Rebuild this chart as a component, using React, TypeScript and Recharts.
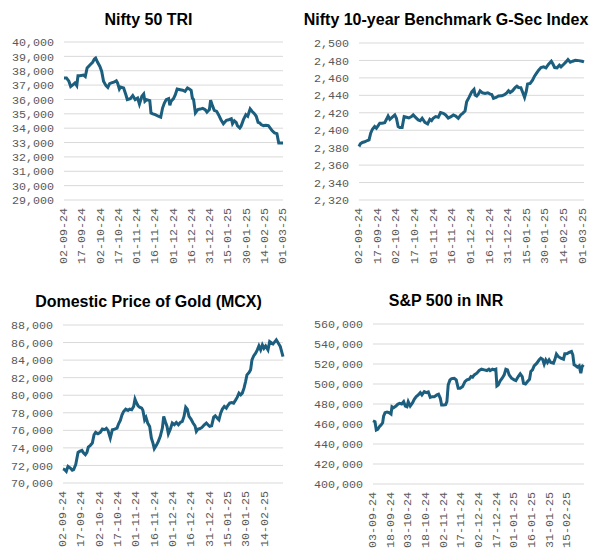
import React from 'react';
import { LineChart, Line, XAxis, YAxis, CartesianGrid } from 'recharts';

// x values are days counted from the first date on each axis
const niftyDays = [
  0, 2, 4, 5.5, 7.5, 9, 10.5, 11.5, 13, 16, 17.5, 19, 21.5, 23.5, 25, 26, 27.5, 29.5, 31, 32.5,
  34.5, 36, 37.5, 39, 41, 43, 44, 45.5, 46.5, 49, 51, 52, 54.5, 56.5, 58.5, 60.5, 62, 64, 65.5, 66.5,
  68, 70.5, 71.5, 73, 75, 77.5, 79.5, 81, 82.5, 84, 86, 87, 88, 90, 91.5, 93, 95.5, 97.5, 99.5, 101.5,
  103, 104.5, 105.5, 106.5, 108, 110, 112, 114, 116, 117.5, 119.5, 120.5, 122, 123.5, 125.5, 127, 129, 131, 133.5, 135.5,
  137.5, 138.5, 140, 141.5, 142.5, 144.5, 145.5, 147.5, 149.5, 151, 153, 154.5, 156.5, 158, 159.5, 161, 162, 164, 166, 168,
  169.5, 171, 173, 175, 176.5, 178, 180,
];
const niftyValues = [
  37500, 37500, 37270, 36900, 37030, 37150, 36960, 37650, 37650, 37700, 37600, 38190, 38420, 38590, 38820, 38880, 38600, 38300, 37950, 37260,
  36960, 36840, 37100, 37150, 37200, 37300, 37150, 36730, 36870, 36800, 36290, 35990, 36060, 36270, 35990, 36100, 35680, 36220, 36380, 35870,
  35990, 35920, 35060, 35000, 34940, 34830, 34760, 35400, 35750, 35990, 36060, 35590, 35870, 36060, 36330, 36730, 36680, 36640, 36560, 36800,
  36730, 36640, 36100, 35990, 35060, 35290, 35330, 35380, 35290, 35110, 35290, 35940, 35570, 35240, 35170, 34940, 34590, 34310, 34550, 34590,
  34660, 34310, 34520, 34410, 34180, 34010, 34130, 34590, 34940, 34830, 35340, 35180, 35010, 34830, 34410, 34360, 34250, 34180, 34200, 34180,
  34010, 33830, 33670, 33620, 32970, 32970, 32970,
];

const gsecDays = [
  0, 1.1, 2.7, 4.6, 6.7, 8.1, 9.4, 10.8, 12.6, 14, 15.3, 16.7, 18.6, 20.7, 22.1, 23.4, 24.8, 26.6, 28.8, 30.1,
  31.5, 32.8, 34.7, 36.3, 38.2, 40.1, 42.2, 43.6, 45.5, 47.6, 49.2, 50.8, 53, 55.2, 57, 58.4, 59.7, 61.6, 63.8, 65.6,
  67.8, 69.7, 71.8, 74, 75.9, 77.8, 79.9, 81.8, 83.4, 85.3, 86.6, 88.5, 90.7, 92.5, 93.4, 94.7, 96, 97.4, 99.3, 101.4,
  103.6, 105.5, 106.8, 108.2, 110.3, 112.2, 114.9, 117, 118.9, 120.3, 121.6, 123.5, 125.6, 127, 128.3, 130.2, 131.8, 133.2, 134.5, 135.6,
  137.7, 139.6, 141.2, 142.3, 144.5, 146.4, 148.5, 150.4, 152.5, 154.7, 155.8, 157.4, 159.3, 161.2, 162.5, 164.7, 166.5, 168.1, 170, 171.9,
  174.1, 176.8, 179.4, 181,
];
const gsecValues = [
  2381.4, 2384.4, 2386, 2386.7, 2388.2, 2389, 2396.6, 2401.1, 2404.2, 2402.3, 2405, 2408, 2408, 2408.7, 2412.5, 2416.3, 2412.5, 2414.8, 2417.5, 2413.7,
  2404.2, 2403, 2403, 2415.6, 2414.8, 2414, 2415.6, 2417.5, 2414.8, 2411.8, 2411, 2413.7, 2409.1, 2407.2, 2412.5, 2411, 2413.7, 2415.6, 2414.8, 2420.2,
  2419.4, 2417.5, 2414, 2415.6, 2417.5, 2416.3, 2413.7, 2417.5, 2419.4, 2422, 2432.7, 2437.6, 2444.1, 2446.8, 2440.3, 2439.2, 2441.4, 2445.2, 2442.9, 2442.2,
  2442.9, 2441.4, 2441, 2436.5, 2437.6, 2439.2, 2439.5, 2440.7, 2442.9, 2445.2, 2443.3, 2445.2, 2449, 2450.6, 2449, 2448.7, 2442.9, 2437.6, 2444.1, 2452.9,
  2453.6, 2457.4, 2462, 2464.3, 2468.8, 2471.9, 2472.6, 2471.5, 2475.7, 2479.1, 2476.4, 2471.9, 2471.5, 2474.5, 2472.6, 2475.7, 2478.3, 2481, 2477.9, 2479.1,
  2480.2, 2479.8, 2479.1, 2478.3,
];

const goldDays = [
  0, 1.4, 2.7, 4.1, 6, 7.6, 8.7, 10.4, 12.3, 13.6, 15.5, 16.9, 18.3, 19.6, 20.7, 22.4, 24, 25.4, 26.7, 28.6,
  30.5, 32.2, 34.1, 35.5, 36.8, 38.7, 40.4, 42.3, 44.2, 45.5, 46.9, 48.3, 49.6, 51.3, 53.2, 54.5, 56.2, 57.8, 58.9, 60,
  61.4, 62.7, 64.4, 65.4, 66.8, 67.9, 69.3, 70.9, 72.3, 73.6, 74.7, 76.4, 78, 79.6, 81.3, 82.4, 83.7, 85.1, 86.2, 87.8,
  89.4, 91.1, 92.7, 94.4, 96, 97.6, 99, 100.4, 101.7, 103.1, 104.7, 106.4, 108, 109.1, 110.4, 111.8, 113.7, 115.6, 117.3, 118.6,
  120, 121.6, 123.3, 124.6, 126.3, 127.6, 129, 130.4, 132, 133.6, 134.7, 136.4, 138, 139.6, 141.3, 142.6, 144, 145.4, 146.7, 148.1,
  149.4, 150.5, 152.2, 153.5, 154.6, 156, 157.6, 159, 160.3, 161.7, 163.1, 164.4, 165.8, 167.7, 169.1, 170.4, 171.8, 173.4, 174.5, 176.2,
  177.8, 178.9, 180,
];
const goldValues = [
  71600, 71520, 71330, 71900, 71710, 71450, 71520, 72090, 73490, 73600, 73720, 73420, 73230, 73490, 74100, 74290, 74550, 75500, 75770, 75610,
  75770, 76140, 76070, 76220, 75990, 75120, 76070, 76140, 76260, 76750, 77130, 77770, 78150, 78420, 78270, 78420, 78340, 78720, 79550, 79170,
  78800, 78640, 78530, 78270, 77200, 77470, 76830, 76450, 75120, 74550, 73910, 74290, 74740, 75310, 76260, 77580, 77010, 76450, 75610, 76140,
  76830, 76640, 76900, 76640, 76900, 77010, 77580, 78640, 78420, 77580, 77280, 76830, 76520, 75880, 76140, 76180, 76330, 76640, 76830, 76640,
  76450, 76520, 77510, 77660, 77390, 77200, 77960, 78420, 78720, 78530, 78800, 79100, 79170, 79100, 79470, 79780, 80240, 80050, 80240, 80800,
  81560, 82320, 82580, 82890, 84020, 84480, 84780, 85160, 85610, 85160, 85730, 85350, 85610, 85160, 86110, 85990, 85840, 86110, 86300, 85920,
  85540, 84970, 84400,
];

const spxDays = [
  0, 1.7, 2.8, 4, 5.4, 6.8, 8.2, 9, 10.2, 11.9, 13.8, 15.3, 16.1, 17.5, 19.5, 20.9, 22.6, 24.3, 26, 27.4,
  28.8, 29.9, 31.6, 33.6, 35, 36.7, 38.4, 40.1, 41.5, 43.5, 45.2, 46.9, 48.6, 50.3, 52, 54.2, 55.6, 57.1, 58.2, 59.9,
  61.6, 62.7, 63.8, 65.3, 66.7, 68.9, 70.6, 72.3, 74, 76, 78, 79.7, 81.6, 83.1, 84.5, 85.9, 88.1, 90.1, 92.1, 94.4,
  96.6, 98.3, 99.4, 101.4, 102.8, 104.2, 105.1, 106.2, 107.9, 109.6, 111.3, 112.7, 114.1, 115.5, 117.5, 119.8, 121.2, 123.2, 124.9, 126.6,
  127.7, 129.4, 131.1, 132.8, 133.9, 135.3, 136.7, 139, 141, 142.4, 143.8, 145.2, 146.6, 148, 149.4, 150.8, 153.1, 154.2, 155.6, 157.1,
  159.3, 161.6, 162.7, 164.4, 166.4, 168.4, 169.5, 170.6, 172, 173.4, 174.9, 176.3, 177.4, 178.5,
];
const spxValues = [
  463260, 462260, 453890, 454560, 457240, 458910, 461260, 467950, 471300, 471970, 471300, 469960, 477320, 476320, 477990, 479670, 480670, 480000, 482340, 477990,
  477320, 482340, 477990, 481340, 484690, 487360, 489040, 491380, 489040, 492390, 491380, 492050, 486690, 487360, 487360, 489040, 489710, 485690, 478990, 478990,
  479330, 482340, 499080, 504100, 505440, 505770, 504100, 495730, 495730, 497410, 502430, 504100, 504770, 507450, 506780, 509120, 510800, 513470, 514810, 514140,
  513470, 514810, 513470, 514810, 514140, 514810, 498080, 499080, 503100, 505770, 509120, 514810, 514140, 509120, 505770, 504100, 503430, 507450, 510130, 507450,
  500750, 500080, 502430, 504770, 512470, 514140, 518160, 520840, 524180, 525860, 524850, 519830, 524180, 521490, 524180, 521490, 520840, 524180, 529870, 527530,
  525860, 524850, 530210, 530210, 531550, 532550, 529200, 519160, 518160, 516820, 518160, 510800, 517490, 519160,
];

const dateLabelsA = [
  '02-09-24', '17-09-24', '02-10-24', '17-10-24', '01-11-24', '16-11-24', '01-12-24',
  '16-12-24', '31-12-24', '15-01-25', '30-01-25', '14-02-25', '01-03-25',
];
const dateLabelsB = [
  '03-09-24', '18-09-24', '03-10-24', '18-10-24', '02-11-24', '17-11-24', '02-12-24',
  '17-12-24', '01-01-25', '16-01-25', '31-01-25', '15-02-25',
];

const niftyTicks = [29000, 30000, 31000, 32000, 33000, 34000, 35000, 36000, 37000, 38000, 39000, 40000];
const gsecTicks = [2320, 2340, 2360, 2380, 2400, 2420, 2440, 2460, 2480, 2500];
const goldTicks = [70000, 72000, 74000, 76000, 78000, 80000, 82000, 84000, 86000, 88000];
const spxTicks = [400000, 420000, 440000, 460000, 480000, 500000, 520000, 540000, 560000];

const LINE_COLOR = '#1b5e7e';
const GRID_COLOR = '#d9d9d9';
const AXIS_TEXT = '#595959';
const MONO = '"Liberation Mono", "Courier New", monospace';
const TITLE_FONT = '"Liberation Sans", Arial, sans-serif';

const DateTick = ({ x, y, payload, labels }: any) => {
  const label = labels[Math.round(payload.value / 15)];
  return (
    <text
      x={x}
      y={y}
      transform={`rotate(-90 ${x} ${y})`}
      textAnchor="end"
      dominantBaseline="central"
      fill={AXIS_TEXT}
      fontSize={11.7}
      fontFamily={MONO}
    >
      {label}
    </text>
  );
};

interface PanelProps {
  title: string;
  days: number[];
  values: number[];
  yTicks: number[];
  xLabels: string[];
  xMax: number;
  left: number;
  top: number;
  width: number;
  height: number;
  marginTop: number;
  marginRight: number;
  marginBottom: number;
  yWidth: number;
  titleTop: number;
}

const Panel = (p: PanelProps) => {
  const data = p.days.map((d, i) => ({ day: d, value: p.values[i] }));
  const xTicks = p.xLabels.map((_, i) => i * 15);
  return (
    <div style={{ position: 'absolute', left: p.left, top: p.top, width: p.width, height: p.height }}>
      <div
        style={{
          position: 'absolute',
          left: 0,
          top: p.titleTop,
          width: p.width,
          textAlign: 'center',
          fontFamily: TITLE_FONT,
          fontWeight: 'bold',
          fontSize: 16,
          lineHeight: '16px',
          color: '#000',
          whiteSpace: 'nowrap',
        }}
      >
        {p.title}
      </div>
      <LineChart
        width={p.width}
        height={p.height}
        data={data}
        margin={{ top: p.marginTop, right: p.marginRight, bottom: p.marginBottom, left: 0 }}
      >
        <CartesianGrid vertical={false} stroke={GRID_COLOR} />
        <XAxis
          dataKey="day"
          type="number"
          domain={[0, p.xMax]}
          ticks={xTicks}
          interval={0}
          height={66}
          axisLine={false}
          tickLine={false}
          tick={<DateTick labels={p.xLabels} />}
        />
        <YAxis
          type="number"
          domain={[p.yTicks[0], p.yTicks[p.yTicks.length - 1]]}
          ticks={p.yTicks}
          interval={0}
          width={p.yWidth}
          axisLine={false}
          tickLine={false}
          tickMargin={4}
          tickFormatter={(v: number) => v.toLocaleString('en-US')}
          tick={{ fill: AXIS_TEXT, fontSize: 11.7, fontFamily: MONO }}
        />
        <Line
          type="linear"
          dataKey="value"
          stroke={LINE_COLOR}
          strokeWidth={3}
          dot={false}
          isAnimationActive={false}
        />
      </LineChart>
    </div>
  );
};

export default function App() {
  return (
    <div style={{ position: 'absolute', left: 0, top: 0, width: 595, height: 553, background: '#fff' }}>
      <Panel
        title="Nifty 50 TRI"
        days={niftyDays}
        values={niftyValues}
        yTicks={niftyTicks}
        xLabels={dateLabelsA}
        xMax={180}
        left={0}
        top={0}
        width={297}
        height={276}
        marginTop={42}
        marginRight={14}
        marginBottom={10}
        yWidth={64}
        titleTop={11.5}
      />
      <Panel
        title="Nifty 10-year Benchmark G-Sec Index"
        days={gsecDays}
        values={gsecValues}
        yTicks={gsecTicks}
        xLabels={dateLabelsA}
        xMax={181}
        left={297}
        top={0}
        width={298}
        height={276}
        marginTop={43}
        marginRight={11}
        marginBottom={10}
        yWidth={62}
        titleTop={11.5}
      />
      <Panel
        title="Domestic Price of Gold (MCX)"
        days={goldDays}
        values={goldValues}
        yTicks={goldTicks}
        xLabels={dateLabelsA.slice(0, 12)}
        xMax={180}
        left={0}
        top={276}
        width={297}
        height={277}
        marginTop={49}
        marginRight={14}
        marginBottom={4}
        yWidth={63}
        titleTop={17.5}
      />
      <Panel
        title="S&P 500 in INR"
        days={spxDays}
        values={spxValues}
        yTicks={spxTicks}
        xLabels={dateLabelsB}
        xMax={179}
        left={297}
        top={276}
        width={298}
        height={277}
        marginTop={48}
        marginRight={11}
        marginBottom={3}
        yWidth={76}
        titleTop={17}
      />
    </div>
  );
}
